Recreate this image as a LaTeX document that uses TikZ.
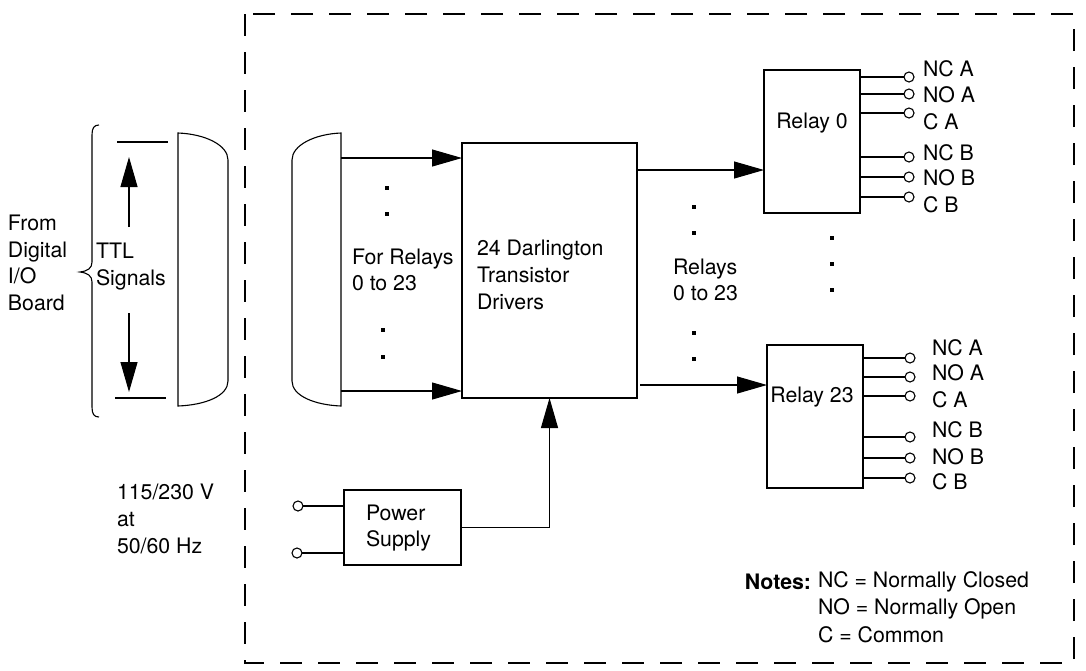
\documentclass[tikz,border=0pt]{standalone}
\usepackage{fontspec}
\setmainfont{TeX Gyre Heros}
\usetikzlibrary{arrows.meta}
\begin{document}
\begin{tikzpicture}[x=1pt,y=-1pt,line width=1.1pt,
  every node/.style={inner sep=0pt,outer sep=0pt},
  lbl/.style={font=\fontsize{21.3}{26.7}\selectfont,align=left,anchor=west},
  boxs/.style={draw,line width=1.2pt},
  arr/.style={-{Triangle[length=30pt,width=17pt]}},
  term/.style={circle,draw,minimum size=10pt,line width=1.1pt},
  border/.style={dash pattern=on 22pt off 16pt,line width=1.5pt},
  dot/.style={fill=black,minimum size=3.2pt,rectangle}]
\useasboundingbox (0,0) rectangle (1086,670);

% dashed enclosure
\draw[border] (245,14) rectangle (1074,663);

% brace and left labels
\draw (99,125) .. controls (94,125) and (92,128) .. (92,135) -- (92,262)
  .. controls (92,268) and (88,271) .. (80,272)
  .. controls (88,273) and (92,276) .. (92,282) -- (92,407)
  .. controls (92,414) and (94,417) .. (99,417);
\node[lbl] (from) at (8,263) {From\\Digital\\I/O\\Board};
\node[lbl] (ttl) at (96,266.5) {TTL\\Signals};

% TTL arrows
\coordinate (ttltop) at (117,142);
\coordinate (ttltopr) at (168,142);
\coordinate (ttlbot) at (115,398);
\coordinate (ttlbotr) at (166,398);
\draw (ttltop) -- (ttltopr);
\draw (ttlbot) -- (ttlbotr);
\coordinate (upa) at (129,227); \coordinate (upb) at (129,157);
\coordinate (dna) at (129,313); \coordinate (dnb) at (129,392);
\draw[arr] (upa) -- (upb);
\draw[arr] (dna) -- (dnb);

% connector 1 (plug)
\draw (178,133) .. controls (205,134) and (228,145) .. (228,160) -- (228,381)
  .. controls (228,396) and (205,405) .. (178,406) -- cycle;
% connector 2 (socket)
\coordinate (c2a) at (341,158);
\coordinate (c2b) at (341,391);
\draw (341,133) .. controls (315,134) and (292,145) .. (292,160) -- (292,381)
  .. controls (292,396) and (315,405) .. (341,406) -- cycle;

% driver box
\node[boxs,minimum width=175pt,minimum height=255pt] (drv) at (549.5,270.5) {};
\node[lbl] (drvt) at (477,275) {24 Darlington\\Transistor\\Drivers};
\draw[arr] (c2a) -- (drv.west |- c2a);
\draw[arr] (c2b) -- (drv.west |- c2b);
\node[lbl] (forr) at (352,270) {For Relays\\0 to 23};
\node[dot] (d1) at (387,188) {};
\node[dot] (d2) at (387,214) {};
\node[dot] (d3) at (383,330) {};
\node[dot] (d4) at (383,357) {};

% relays
\node[boxs,minimum width=96pt,minimum height=143pt] (r0) at (812,141.5) {};
\node[lbl,anchor=center] (r0t) at (812,123) {Relay 0};
\node[boxs,minimum width=96pt,minimum height=143pt] (r23) at (815,416.5) {};
\node[lbl,anchor=center] (r23t) at (812,397) {Relay 23};

\coordinate (o0) at (637,170);
\coordinate (o23) at (640,385);
\draw[arr] (o0) -- (r0.west |- o0);
\draw[arr] (o23) -- (r23.west |- o23);
\node[lbl] (rel) at (673,280) {Relays\\0 to 23};
\node[dot] (e1) at (694,207) {};
\node[dot] (e2) at (694,233) {};
\node[dot] (e3) at (694,333) {};
\node[dot] (e4) at (694,359) {};
\node[dot] (f1) at (832,238) {};
\node[dot] (f2) at (832,264) {};
\node[dot] (f3) at (832,290) {};

% relay 0 terminals
\foreach \y/\n in {77/1,94/2,113/3,157/4,177/5,197/6}{
  \node[term] (a\n) at (909,\y) {};
  \draw (r0.east |- a\n) -- (a\n.west);
}
\foreach \y/\t/\n in {69/NC A/1,95/NO A/2,122/C A/3,153/NC B/4,178/NO B/5,205/C B/6}{
  \node[lbl] (al\n) at (923,\y) {\t};
}
% relay 23 terminals
\foreach \y/\n in {358/1,377/2,396/3,437/4,458/5,478/6}{
  \node[term] (b\n) at (910,\y) {};
  \draw (r23.east |- b\n) -- (b\n.west);
}
\foreach \y/\t/\n in {348/NC A/1,373/NO A/2,400/C A/3,430/NC B/4,457/NO B/5,482/C B/6}{
  \node[lbl] (bl\n) at (932,\y) {\t};
}

% power supply
\node[boxs,minimum width=117pt,minimum height=75pt] (psu) at (402.5,527.5) {};
\node[lbl] (psut) at (366,528) {Power\\Supply};
\node[term] (p1) at (298,506) {};
\node[term] (p2) at (297,553) {};
\draw (p1.east) -- (psu.west |- p1);
\draw (p2.east) -- (psu.west |- p2);
\draw[arr] (psu.east) -- (drv.south |- psu.east) -- (drv.south);
\node[lbl] (volt) at (117,519) {115/230 V\\at\\50/60 Hz};

% notes
\node[lbl,anchor=east] (n0) at (811,582) {\textbf{Notes:}};
\node[lbl] (n1) at (818,582) {NC = Normally Closed};
\node[lbl] (n2) at (818,609) {NO = Normally Open};
\node[lbl] (n3) at (818,635) {C = Common};
\end{tikzpicture}
\end{document}
